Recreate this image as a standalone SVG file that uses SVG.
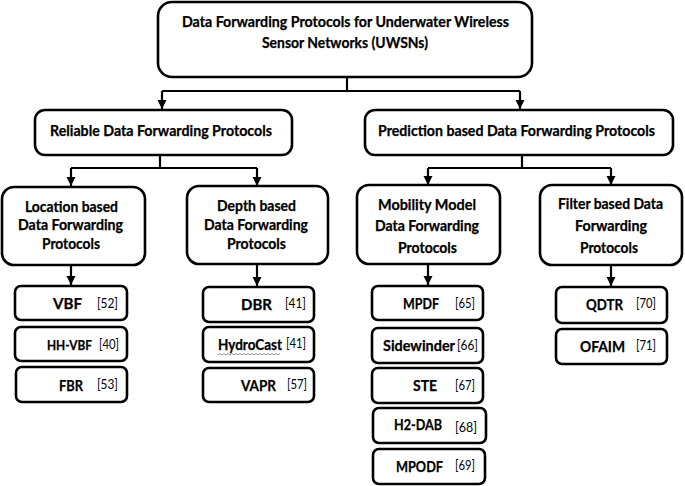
<svg xmlns="http://www.w3.org/2000/svg" width="685" height="486" viewBox="0 0 685 486">
<style>
.box{fill:#fff;stroke:#000;stroke-width:2.6}
.t,.n{font-family:Lato,"Liberation Sans",sans-serif;font-weight:700;font-size:14.2px;fill:#000;stroke:#000;stroke-width:0.25}
.r{font-family:Lato,"Liberation Sans",sans-serif;font-weight:400;font-size:13.5px;fill:#000}
.c{fill:none;stroke:#000;stroke-width:2.2}
</style>
<defs>
<marker id="ah" markerUnits="userSpaceOnUse" markerWidth="10" markerHeight="10" viewBox="0 0 10 10" refX="9" refY="5" orient="auto">
<path d="M0,0.5 L9,5 L0,9.5 Z" fill="#000"/>
</marker>
</defs>
<rect width="685" height="486" fill="#fff"/>
<g id="connectors">
<path class="c" d="M347,77 V91 M162,91 H520"/>
<path class="c" d="M162,91 V109" marker-end="url(#ah)"/>
<path class="c" d="M520,91 V109" marker-end="url(#ah)"/>
<path class="c" d="M160,155 V168 M71,168 H257"/>
<path class="c" d="M71,168 V186" marker-end="url(#ah)"/>
<path class="c" d="M257,168 V186" marker-end="url(#ah)"/>
<path class="c" d="M522,155 V168 M428,168 H611"/>
<path class="c" d="M428,168 V185" marker-end="url(#ah)"/>
<path class="c" d="M611,168 V185" marker-end="url(#ah)"/>
<path class="c" d="M71,265 V285" marker-end="url(#ah)"/>
<path class="c" d="M257,264 V286" marker-end="url(#ah)"/>
<path class="c" d="M428,264 V285" marker-end="url(#ah)"/>
<path class="c" d="M611,265 V286" marker-end="url(#ah)"/>
</g>
<g id="root">
<rect class="box" x="158" y="2" width="374" height="75" rx="14"/>
<text class="t" x="182" y="27" textLength="327" lengthAdjust="spacingAndGlyphs">Data Forwarding Protocols for Underwater Wireless</text>
<text class="t" x="262" y="48" textLength="166" lengthAdjust="spacingAndGlyphs">Sensor Networks (UWSNs)</text>
</g>
<g id="reliable">
<rect class="box" x="35" y="110" width="257" height="45" rx="10"/>
<text class="t" x="50" y="136" textLength="222" lengthAdjust="spacingAndGlyphs">Reliable Data Forwarding Protocols</text>
</g>
<g id="prediction">
<rect class="box" x="365" y="110" width="308" height="45" rx="10"/>
<text class="t" x="378" y="136" textLength="277" lengthAdjust="spacingAndGlyphs">Prediction based Data Forwarding Protocols</text>
</g>
<g id="location">
<rect class="box" x="2" y="187" width="143" height="78" rx="12"/>
<text class="t" x="25" y="212" textLength="93" lengthAdjust="spacingAndGlyphs">Location based</text>
<text class="t" x="18" y="230" textLength="105" lengthAdjust="spacingAndGlyphs">Data Forwarding</text>
<text class="t" x="42" y="249" textLength="58" lengthAdjust="spacingAndGlyphs">Protocols</text>
</g>
<g id="depth">
<rect class="box" x="187" y="186" width="141" height="78" rx="12"/>
<text class="t" x="217" y="211" textLength="79" lengthAdjust="spacingAndGlyphs">Depth based</text>
<text class="t" x="204" y="230" textLength="104" lengthAdjust="spacingAndGlyphs">Data Forwarding</text>
<text class="t" x="227" y="249" textLength="59" lengthAdjust="spacingAndGlyphs">Protocols</text>
</g>
<g id="mobility">
<rect class="box" x="357" y="185" width="143" height="79" rx="12"/>
<text class="t" x="378" y="210" textLength="98" lengthAdjust="spacingAndGlyphs">Mobility Model</text>
<text class="t" x="375" y="231" textLength="104" lengthAdjust="spacingAndGlyphs">Data Forwarding</text>
<text class="t" x="398" y="253" textLength="59" lengthAdjust="spacingAndGlyphs">Protocols</text>
</g>
<g id="filter">
<rect class="box" x="540" y="185" width="142" height="80" rx="12"/>
<text class="t" x="558" y="209" textLength="105" lengthAdjust="spacingAndGlyphs">Filter based Data</text>
<text class="t" x="575" y="231" textLength="72" lengthAdjust="spacingAndGlyphs">Forwarding</text>
<text class="t" x="580" y="253" textLength="58" lengthAdjust="spacingAndGlyphs">Protocols</text>
</g>
<g id="vbf">
<rect class="box" x="15" y="286" width="112" height="34" rx="6"/>
<text class="n" x="53" y="309" textLength="29" lengthAdjust="spacingAndGlyphs">VBF</text><text class="r" x="97" y="308" textLength="21" lengthAdjust="spacingAndGlyphs">[52]</text>
</g>
<g id="hhvbf">
<rect class="box" x="15" y="327" width="112" height="34" rx="6"/>
<text class="n" x="47" y="350" textLength="45" lengthAdjust="spacingAndGlyphs" style="font-size:13px">HH-VBF</text><text class="r" x="99" y="349" textLength="20" lengthAdjust="spacingAndGlyphs">[40]</text>
</g>
<g id="fbr">
<rect class="box" x="16" y="367" width="111" height="35" rx="6"/>
<text class="n" x="59" y="391" textLength="24" lengthAdjust="spacingAndGlyphs">FBR</text><text class="r" x="97" y="389" textLength="21" lengthAdjust="spacingAndGlyphs">[53]</text>
</g>
<g id="dbr">
<rect class="box" x="203" y="287" width="111" height="35" rx="6"/>
<text class="n" x="241" y="310" textLength="31" lengthAdjust="spacingAndGlyphs">DBR</text><text class="r" x="285" y="308" textLength="21" lengthAdjust="spacingAndGlyphs">[41]</text>
</g>
<g id="hydrocast">
<rect class="box" x="203" y="327" width="111" height="35" rx="6"/>
<text class="n" x="218" y="350" textLength="64" lengthAdjust="spacingAndGlyphs">HydroCast</text><text class="r" x="286" y="348" textLength="20" lengthAdjust="spacingAndGlyphs">[41]</text>
<path d="M218,355 l2,-1.5 l2,1.5 l2,-1.5 l2,1.5 l2,-1.5 l2,1.5 l2,-1.5 l2,1.5 l2,-1.5 l2,1.5 l2,-1.5 l2,1.5 l2,-1.5 l2,1.5 l2,-1.5 l2,1.5 l2,-1.5 l2,1.5 l2,-1.5 l2,1.5 l2,-1.5 l2,1.5 l2,-1.5 l2,1.5 l2,-1.5 l2,1.5 l2,-1.5 l2,1.5 l2,-1.5 l2,1.5 l2,-1.5" fill="none" stroke="#888" stroke-width="0.9"/>
</g>
<g id="vapr">
<rect class="box" x="203" y="368" width="111" height="34" rx="6"/>
<text class="n" x="241" y="391" textLength="35" lengthAdjust="spacingAndGlyphs">VAPR</text><text class="r" x="287" y="389" textLength="20" lengthAdjust="spacingAndGlyphs">[57]</text>
</g>
<g id="mpdf">
<rect class="box" x="372" y="286" width="111" height="34" rx="6"/>
<text class="n" x="403" y="309" textLength="36" lengthAdjust="spacingAndGlyphs">MPDF</text><text class="r" x="455" y="308" textLength="20" lengthAdjust="spacingAndGlyphs">[65]</text>
</g>
<g id="sidewinder">
<rect class="box" x="372" y="328" width="111" height="35" rx="6"/>
<text class="n" x="383" y="351" textLength="72" lengthAdjust="spacingAndGlyphs">Sidewinder</text><text class="r" x="457" y="350" textLength="21" lengthAdjust="spacingAndGlyphs">[66]</text>
</g>
<g id="ste">
<rect class="box" x="372" y="368" width="111" height="35" rx="6"/>
<text class="n" x="413" y="391" textLength="24" lengthAdjust="spacingAndGlyphs">STE</text><text class="r" x="455" y="390" textLength="20" lengthAdjust="spacingAndGlyphs">[67]</text>
</g>
<g id="h2dab">
<rect class="box" x="373" y="408" width="113" height="35" rx="6"/>
<text class="n" x="394" y="430" textLength="48" lengthAdjust="spacingAndGlyphs">H2-DAB</text><text class="r" x="455" y="432" textLength="22" lengthAdjust="spacingAndGlyphs">[68]</text>
</g>
<g id="mpodf">
<rect class="box" x="373" y="449" width="112" height="35" rx="6"/>
<text class="n" x="396" y="472" textLength="47" lengthAdjust="spacingAndGlyphs">MPODF</text><text class="r" x="455" y="470" textLength="20" lengthAdjust="spacingAndGlyphs">[69]</text>
</g>
<g id="qdtr">
<rect class="box" x="556" y="287" width="111" height="36" rx="6"/>
<text class="n" x="586" y="310" textLength="37" lengthAdjust="spacingAndGlyphs">QDTR</text><text class="r" x="636" y="308" textLength="20" lengthAdjust="spacingAndGlyphs">[70]</text>
</g>
<g id="ofaim">
<rect class="box" x="556" y="329" width="111" height="35" rx="6"/>
<text class="n" x="580" y="352" textLength="45" lengthAdjust="spacingAndGlyphs">OFAIM</text><text class="r" x="636" y="350" textLength="20" lengthAdjust="spacingAndGlyphs">[71]</text>
</g>
</svg>
